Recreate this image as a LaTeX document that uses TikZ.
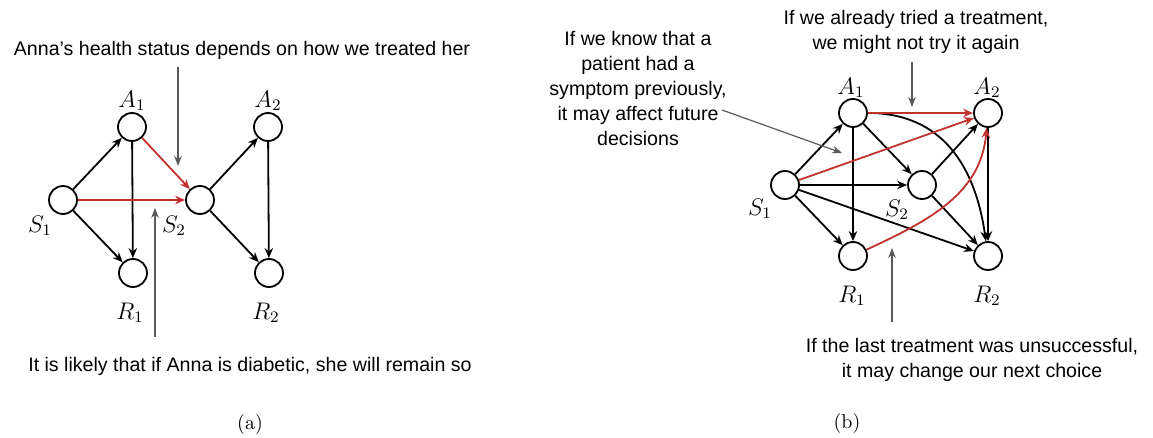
\documentclass[tikz,border=0pt]{standalone}
\usepackage{fontspec}
\newfontfamily\arial{Liberation Sans}
\usetikzlibrary{arrows.meta}
\definecolor{myred}{RGB}{192,50,45}
\definecolor{anngray}{RGB}{90,90,90}
\tikzset{
  st/.style={circle,draw,line width=0.9pt,minimum size=14pt,inner sep=0pt},
  lab/.style={font=\fontsize{11.5}{12}\selectfont},
  ed/.style={-{Stealth[length=5pt,width=4.2pt]},line width=0.9pt,black},
  redge/.style={ed,draw=myred},
  ann/.style={-{Stealth[length=5pt,width=3.8pt]},line width=0.6pt,draw=anngray},
  txt/.style={font=\arial\fontsize{9.8}{12.5}\selectfont,align=center,inner sep=0pt},
  captext/.style={font=\fontsize{10}{12}\selectfont,inner sep=0pt}
}
\begin{document}
\begin{tikzpicture}[x=0.5pt,y=-0.5pt]
\useasboundingbox (0,0) rectangle (1153,438);
% ---------- (a)
\node[st] (aA1) at (132,127) {};
\node[st] (aA2) at (268,127) {};
\node[st] (aS1) at (63,200) {};
\node[st] (aS2) at (200,200) {};
\node[st] (aR1) at (133,273) {};
\node[st] (aR2) at (269,273) {};
\node[lab] (laA1) at (132,101) {$A_1$};
\node[lab] (laA2) at (268,101) {$A_2$};
\node[lab] (laS1) at (40,226) {$S_1$};
\node[lab] (laS2) at (174,226) {$S_2$};
\node[lab] (laR1) at (130,313) {$R_1$};
\node[lab] (laR2) at (266,313) {$R_2$};
\draw[ed] (aS1) -- (aA1);
\draw[ed] (aS1) -- (aR1);
\draw[ed] (aA1) -- (aR1);
\draw[redge] (aS1) -- (aS2);
\draw[redge] (aA1) -- (aS2);
\draw[ed] (aS2) -- (aA2);
\draw[ed] (aS2) -- (aR2);
\draw[ed] (aA2) -- (aR2);
\node[txt] (ta1) at (242,50) {Anna’s health status depends on how we treated her};
\coordinate (ca1s) at (178,67);
\coordinate (ca1e) at (178,166);
\draw[ann] (ca1s) -- (ca1e);
\node[txt] (ta2) at (250,366) {It is likely that if Anna is diabetic, she will remain so};
\coordinate (ca2s) at (155,337);
\coordinate (ca2e) at (155,208);
\draw[ann] (ca2s) -- (ca2e);
\node[captext] (capa) at (250,425) {(a)};
% ---------- (b)
\node[st] (bA1) at (853,113) {};
\node[st] (bA2) at (988,113) {};
\node[st] (bS1) at (785,185) {};
\node[st] (bS2) at (922,185) {};
\node[st] (bR1) at (853,256) {};
\node[st] (bR2) at (988,256) {};
\node[lab] (lbA1) at (851,88) {$A_1$};
\node[lab] (lbA2) at (987,88) {$A_2$};
\node[lab] (lbS1) at (760,209) {$S_1$};
\node[lab] (lbS2) at (897,210) {$S_2$};
\node[lab] (lbR1) at (852,296) {$R_1$};
\node[lab] (lbR2) at (987,296) {$R_2$};
\draw[ed] (bS1) -- (bA1);
\draw[ed] (bS1) -- (bR1);
\draw[ed] (bS1) -- (bS2);
\draw[ed] (bS1) -- (bR2);
\draw[ed] (bA1) -- (bS2);
\draw[ed] (bA1) -- (bR1);
\draw[ed] (bA1.east) to[out=0,in=98,looseness=1.1] (bR2);
\draw[ed] (bS2) -- (bA2);
\draw[ed] (bS2) -- (bR2);
\draw[ed] (bA2) -- (bR2);
\draw[redge] (bS1) -- (bA2);
\draw[redge] (bA1) -- (bA2);
\draw[redge] (bR1) to[out=25,in=-95] (bA2);
\node[txt] (tb1) at (638,88) {If we know that a\\patient had a\\symptom previously,\\it may affect future\\decisions};
\coordinate (cb1s) at (722,110);
\coordinate (cb1e) at (842,153);
\draw[ann] (cb1s) -- (cb1e);
\node[txt] (tb2) at (916,32) {If we already tried a treatment,\\we might not try it again};
\coordinate (cb2s) at (912,62);
\coordinate (cb2e) at (912,107);
\draw[ann] (cb2s) -- (cb2e);
\node[txt] (tb3) at (972,360) {If the last treatment was unsuccessful,\\it may change our next choice};
\coordinate (cb3s) at (892,322);
\coordinate (cb3e) at (892,248);
\draw[ann] (cb3s) -- (cb3e);
\node[captext] (capb) at (847,424) {(b)};
\end{tikzpicture}
\end{document}
